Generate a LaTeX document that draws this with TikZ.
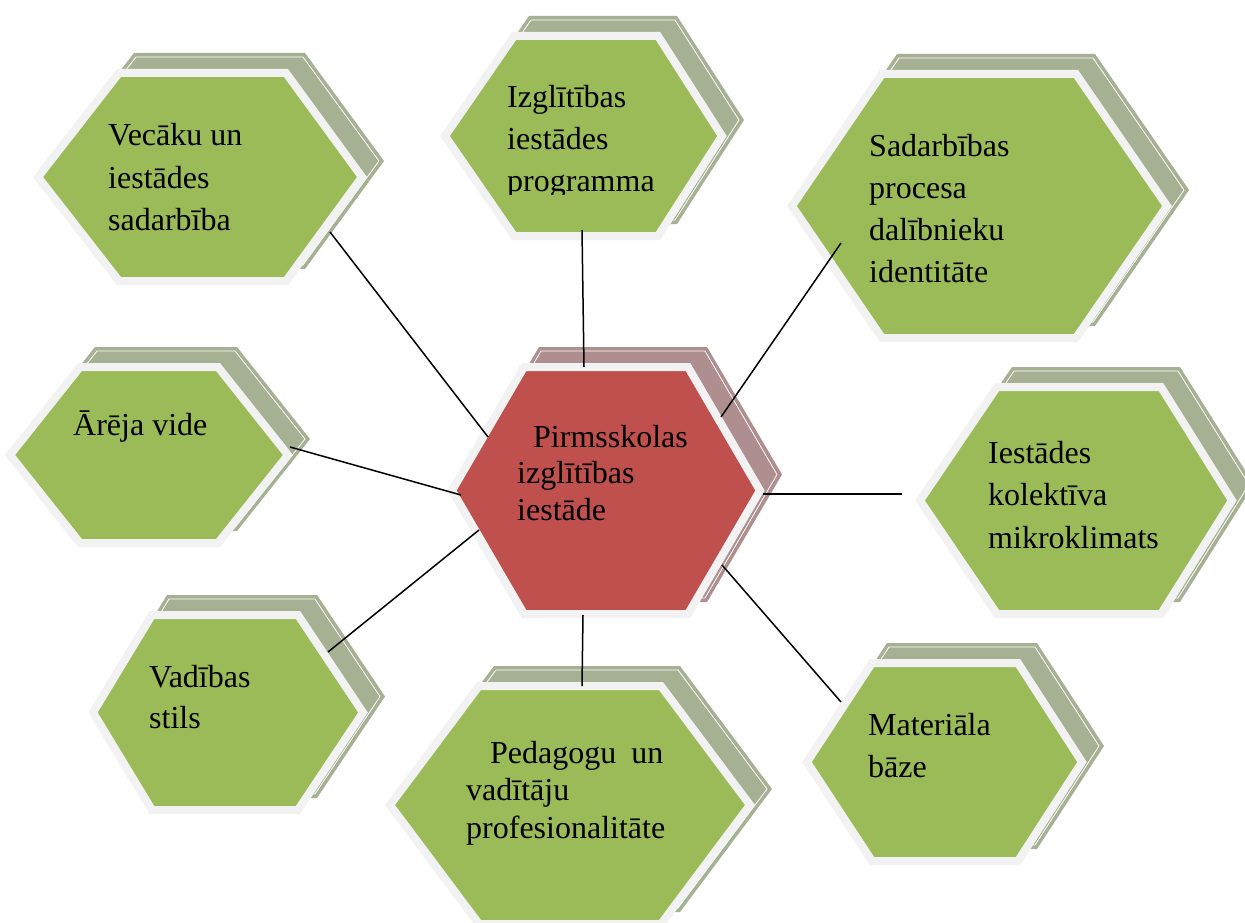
\documentclass[tikz,border=0pt]{standalone}
\usepackage{fontspec}
\setmainfont{Liberation Serif}
\definecolor{hgreen}{HTML}{9BBB59}
\definecolor{hred}{HTML}{C0504D}
\definecolor{hborder}{HTML}{F2F2F2}
\definecolor{gshadow}{HTML}{A6B093}
\definecolor{rshadow}{HTML}{AE8E8E}
% #1 L, #2 R, #3 TL, #4 TR, #5 T, #6 B, #7 fill, #8 shadow
\newcommand{\hexa}[8]{%
  \fill[#8] ({#1+17},{(#5+#6)/2-16}) -- ({#3+17},{#5-16}) -- ({#4+17},{#5-16}) -- ({#2+17},{(#5+#6)/2-16}) -- ({#4+17},{#6-16}) -- ({#3+17},{#6-16}) -- cycle;
  \draw[shadowline] ({#1+17+5},{(#5+#6)/2-16}) -- ({#3+17+2},{#5-16+4}) -- ({#4+17-2},{#5-16+4}) -- ({#2+17-5},{(#5+#6)/2-16}) -- ({#4+17-2},{#6-16-4}) -- ({#3+17+2},{#6-16-4}) -- cycle;
  \filldraw[fill=#7, hexborder] ({#1+5},{(#5+#6)/2}) -- ({#3+2},{#5+4}) -- ({#4-2},{#5+4}) -- ({#2-5},{(#5+#6)/2}) -- ({#4-2},{#6-4}) -- ({#3+2},{#6-4}) -- cycle;
}
\tikzset{
  shadowline/.style={white, line width=0.8},
  hexborder/.style={draw=hborder, line width=8, line join=miter},
  lbl/.style={inner sep=0, anchor=base west, text=black},
  link/.style={draw=black, line width=1.5},
}
\begin{document}
\begin{tikzpicture}[x=1pt,y=-1pt]
\useasboundingbox (0,0) rectangle (1245,923);
\fill[white] (0,0) rectangle (1245,923);
\clip (0,0) rectangle (1245,923);
% hexagons
\hexa{33}{367}{117}{288}{69}{285}{hgreen}{gshadow}
\hexa{440}{727}{512}{660}{32}{240}{hgreen}{gshadow}
\hexa{787}{1172}{880}{1078}{70}{342}{hgreen}{gshadow}
\hexa{5}{293}{78}{220}{363}{547}{hgreen}{gshadow}
\hexa{447}{765}{522}{690}{363}{618}{hred}{rshadow}
\hexa{915}{1237}{995}{1163}{383}{618}{hgreen}{gshadow}
\hexa{88}{368}{150}{300}{611}{814}{hgreen}{gshadow}
\hexa{385}{755}{477}{663}{682}{928}{hgreen}{gshadow}
\hexa{802}{1087}{870}{1020}{659}{865}{hgreen}{gshadow}
% labels
\node[lbl, font=\fontsize{32}{42.5}\selectfont] (tV) at (108,146) {\begin{tabular}[t]{@{}l@{}}Vecāku un\\iestādes\\sadarbība\end{tabular}};
\begin{scope}
\clip (430,0) rectangle (760,194);
\node[lbl, font=\fontsize{32}{42}\selectfont] (tI) at (507,108) {\begin{tabular}[t]{@{}l@{}}Izglītības\\iestādes\\programma\end{tabular}};
\end{scope}
\node[lbl, font=\fontsize{32}{41.7}\selectfont] (tS) at (869,157) {\begin{tabular}[t]{@{}l@{}}Sadarbības\\procesa\\dalībnieku\\identitāte\end{tabular}};
\node[lbl, font=\fontsize{32}{42}\selectfont] (tA) at (73,435) {Ārēja vide};
\node[lbl, font=\fontsize{32}{36.5}\selectfont] (tC) at (517,447) {\begin{tabular}[t]{@{}l@{}}\hspace{16pt}Pirmsskolas\\izglītības\\iestāde\end{tabular}};
\node[lbl, font=\fontsize{32}{42.5}\selectfont] (tK) at (988,463) {\begin{tabular}[t]{@{}l@{}}Iestādes\\kolektīva\\mikroklimats\end{tabular}};
\node[lbl, font=\fontsize{32}{41}\selectfont] (tVS) at (149,687) {\begin{tabular}[t]{@{}l@{}}Vadības\\stils\end{tabular}};
\node[lbl, font=\fontsize{32}{37.5}\selectfont] (tP) at (466,763) {\begin{tabular}[t]{@{}l@{}}\hspace{24pt}Pedagogu\hspace{15pt}un\\vadītāju\\profesionalitāte\end{tabular}};
\node[lbl, font=\fontsize{32}{42}\selectfont] (tMB) at (868,735) {\begin{tabular}[t]{@{}l@{}}Materiāla\\bāze\end{tabular}};
% connector ends
\coordinate (V-e) at (330,232);  \coordinate (C-v) at (488,437);
\coordinate (I-e) at (582,230);  \coordinate (C-i) at (584,367);
\coordinate (S-e) at (841,243);  \coordinate (C-s) at (721,417);
\coordinate (A-e) at (290,447);  \coordinate (C-a) at (461,495);
\coordinate (K-e) at (902,494);  \coordinate (C-k) at (763,494);
\coordinate (VS-e) at (328,652); \coordinate (C-vs) at (479,530);
\coordinate (P-e) at (582,686);  \coordinate (C-p) at (583,615);
\coordinate (MB-e) at (841,702); \coordinate (C-mb) at (722,565);
\draw[link] (V-e) -- (C-v);
\draw[link] (I-e) -- (C-i);
\draw[link] (S-e) -- (C-s);
\draw[link] (A-e) -- (C-a);
\draw[link] (K-e) -- (C-k);
\draw[link] (VS-e) -- (C-vs);
\draw[link] (P-e) -- (C-p);
\draw[link] (MB-e) -- (C-mb);
\end{tikzpicture}
\end{document}
